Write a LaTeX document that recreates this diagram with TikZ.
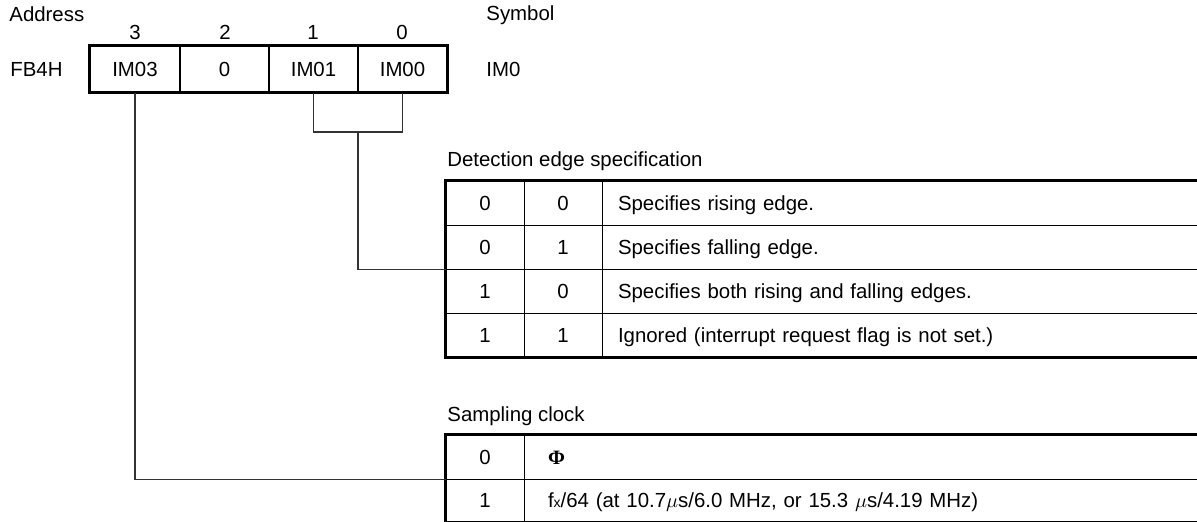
\documentclass[tikz,border=0pt]{standalone}
\usepackage{fontspec}
\setmainfont{Liberation Sans}
\newfontfamily\phifont{Liberation Serif}
\begin{document}
\begin{tikzpicture}[x=0.5pt,y=-0.5pt,
  font=\fontsize{10.2}{12}\selectfont,
  lbl/.style={anchor=base west, inner sep=0pt},
  ctr/.style={anchor=base, inner sep=0pt},
  thickborder/.style={line width=1.5pt},
  divider/.style={line width=0.8pt},
  conn/.style={line width=0.55pt, draw=black!80},
  regcell/.style={draw, divider, minimum width=44.5pt, minimum height=23pt, inner sep=0pt, text height=7.2pt, text depth=0pt},
  cell/.style={minimum height=22pt, inner sep=0pt, text height=7.2pt, text depth=0pt},
  bitcol/.style={cell, minimum width=39pt},
  desc/.style={cell, inner xsep=8pt, text width=281.5pt, align=left},
  desctwo/.style={cell, inner xsep=12pt, text width=312.5pt, align=left}]
\useasboundingbox (0,0) rectangle (1197,522);

% labels
\node[lbl] (addr) at (9,22) {Address};
\node[lbl] (fb) at (10,77) {FB4H};
\node[lbl] (sym) at (486,21) {Symbol};
\node[lbl] (imzero) at (486,77) {IM0};
\node[ctr] (n3) at (135,40) {3};
\node[ctr] (n2) at (225,40) {2};
\node[ctr] (n1) at (313,40) {1};
\node[ctr] (n0) at (402,40) {0};

% register
\node[regcell] (b3) at (135,69) {IM03};
\node[regcell] (b2) at (224.5,69) {0};
\node[regcell] (b1) at (313.5,69) {IM01};
\node[regcell] (b0) at (402.5,69) {IM00};
\draw[thickborder] (b3.north west) rectangle (b0.south east);

% table 1
\node[lbl] (t1title) at (447,167) {Detection edge specification};
\foreach \r/\y/\p/\q/\d in {1/203/0/0/{Specifies rising edge.},
                           2/247/0/1/{Specifies falling edge.},
                           3/291/1/0/{Specifies both rising and falling edges.},
                           4/335/1/1/{Ignored (interrupt request flag is not set.)}}{
  \node[bitcol] (ta\r) at (485,\y) {\p};
  \node[bitcol] (tb\r) at (563,\y) {\q};
  \node[desc] (tc\r) at (899.5,\y) {\d};
}
\foreach \r in {1,2,3}{
  \draw[divider] (ta\r.south west) -- (tc\r.south east);
}
\draw[divider] (ta1.north east) -- (ta4.south east);
\draw[divider] (tb1.north east) -- (tb4.south east);
\draw[thickborder] (tc1.north east) -- (ta1.north west) -- (ta4.south west) -- (tc4.south east);

% table 2
\node[lbl] (t2title) at (447,422) {Sampling clock};
\node[bitcol] (sa1) at (485,457) {0};
\node[desctwo] (sc1) at (860.5,457) {{\phifont\bfseries Φ}};
\node[bitcol] (sa2) at (485,500) {1};
\node[desctwo] (sc2) at (860.5,500) {f{\scriptsize x}/64 (at 10.7$\mu$s/6.0 MHz, or 15.3 $\mu$s/4.19 MHz)};
\draw[divider] (sa1.south west) -- (sc1.south east);
\draw[divider] (sa1.north east) -- (sa2.south east);
\draw[thickborder] (sc1.north east) -- (sa1.north west) -- (sa2.south west) -- (sc2.south east);

% connectors
\coordinate (bm) at (358,132);
\draw[conn] (b1.south) |- (bm) -| (b0.south);
\draw[conn] (bm) |- (ta2.south west);
\draw[conn] (b3.south) |- (sa1.south west);
\end{tikzpicture}
\end{document}
